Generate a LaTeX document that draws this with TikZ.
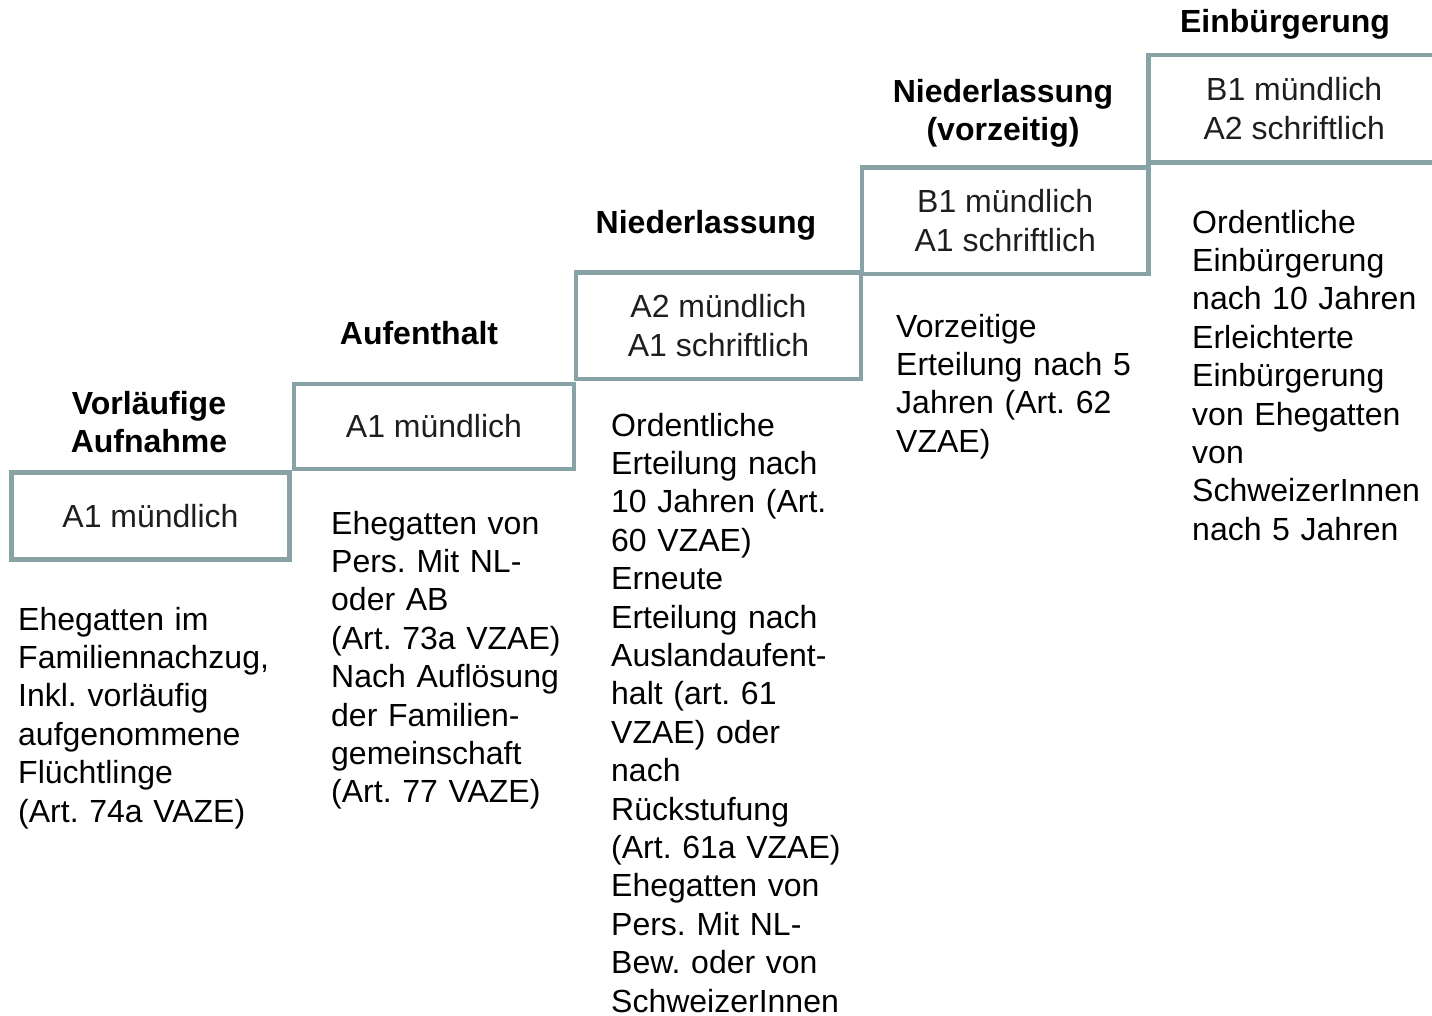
\documentclass[tikz,border=0pt]{standalone}
\usepackage{fontspec}
\setmainfont{Liberation Sans}
\frenchspacing
\definecolor{boxline}{HTML}{87A3A5}
\definecolor{boxtext}{HTML}{1E1E1E}
\begin{document}
\begin{tikzpicture}[x=1pt,y=-1pt,
  stepbox/.style={draw=boxline, line width=4.5pt, rectangle, inner sep=0pt,
    align=center, text=boxtext, font=\fontsize{32}{38.4}\selectfont\frenchspacing},
  head/.style={anchor=base, inner sep=0pt, text width=340pt, align=center,
    font=\fontsize{32}{38.4}\selectfont\bfseries\frenchspacing},
  body/.style={anchor=base west, inner sep=0pt, text width=300pt, align=left,
    font=\fontsize{32}{38.4}\selectfont\frenchspacing}]
\useasboundingbox (0,0) rectangle (1432,1015);

% boxes
\node[stepbox, minimum width=278pt, minimum height=87pt] (b1) at (150.5,516) {A1 mündlich};
\node[stepbox, minimum width=280pt, minimum height=85pt] (b2) at (434,426.5) {A1 mündlich};
\node[stepbox, minimum width=285pt, minimum height=106.5pt] (b3) at (718.5,325.75) {A2 mündlich\\A1 schriftlich};
\node[stepbox, minimum width=286.5pt, minimum height=106.5pt] (b4) at (1005.25,220.75) {B1 mündlich\\A1 schriftlich};
\node[stepbox, minimum width=291.5pt, minimum height=107.5pt] (b5) at (1294.25,108.75) {B1 mündlich\\A2 schriftlich};

% headings
\node[head] (h1) at (149,414) {Vorläufige\\Aufnahme};
\node[head] (h2) at (419,344) {Aufenthalt};
\node[head] (h3) at (706,233) {Niederlassung};
\node[head] (h4) at (1003,102) {Niederlassung\\(vorzeitig)};
\node[head] (h5) at (1285,32) {Einbürgerung};

% descriptions
\node[body] (t1) at (18,630) {Ehegatten im\\Familiennachzug,\\Inkl. vorläufig\\aufgenommene\\Flüchtlinge\\(Art. 74a VAZE)};
\node[body] (t2) at (331,534) {Ehegatten von\\Pers. Mit NL-\\oder AB\\(Art. 73a VZAE)\\Nach Auflösung\\der Familien-\\gemeinschaft\\(Art. 77 VAZE)};
\node[body] (t3) at (611,436) {Ordentliche\\Erteilung nach\\10 Jahren (Art.\\60 VZAE)\\Erneute\\Erteilung nach\\Auslandaufent-\\halt (art. 61\\VZAE) oder\\nach\\Rückstufung\\(Art. 61a VZAE)\\Ehegatten von\\Pers. Mit NL-\\Bew. oder von\\SchweizerInnen};
\node[body] (t4) at (896,337) {Vorzeitige\\Erteilung nach 5\\Jahren (Art. 62\\VZAE)};
\node[body] (t5) at (1192,233) {Ordentliche\\Einbürgerung\\nach 10 Jahren\\Erleichterte\\Einbürgerung\\von Ehegatten\\von\\SchweizerInnen\\nach 5 Jahren};
\end{tikzpicture}
\end{document}
